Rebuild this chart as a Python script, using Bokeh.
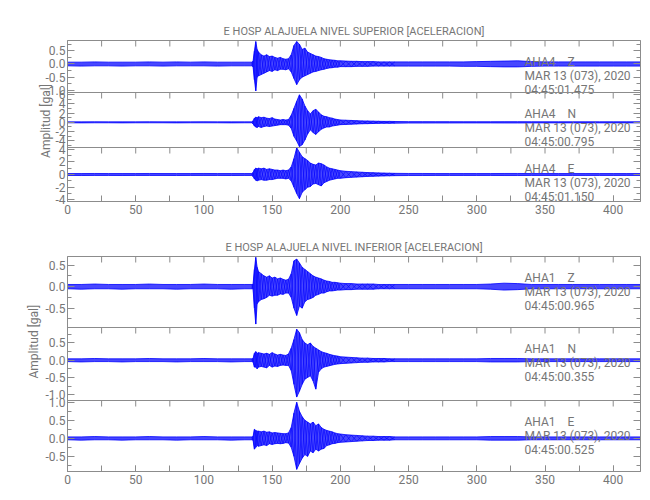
from bokeh.plotting import figure
from bokeh.layouts import column
from bokeh.models import LinearAxis, Range1d, Label, Span, SingleIntervalTicker, FixedTicker
from bokeh.embed import file_html
from bokeh.resources import INLINE

# ---------------- data ----------------
# time nodes in seconds
t = [0, 10, 20, 30, 40, 50, 60, 70, 80, 90, 100, 110, 120, 130, 135,
     136, 137, 138, 139, 140, 142, 144, 146, 148, 150, 152, 154, 156, 158, 160,
     162, 164, 166, 168, 170, 172, 174, 176, 178, 180, 182, 184, 186, 188, 190,
     192, 194, 196, 198, 200,
     204, 208, 212, 216, 220, 224, 228, 232, 236, 240,
     250, 260, 270, 280, 290, 300, 310, 320, 330, 340, 350, 360, 370, 380, 390, 400, 410, 420]

# upper level (AHA4) envelopes [gal]
aha4_z_hi = [0.07, 0.07, 0.08, 0.07, 0.07, 0.07, 0.08, 0.07, 0.08, 0.07, 0.08, 0.07, 0.07, 0.07, 0.07,
             0.10, 0.50, 0.85, 0.55, 0.45, 0.35, 0.30, 0.35, 0.28, 0.30, 0.25, 0.22, 0.25, 0.20, 0.18,
             0.20, 0.35, 0.70, 0.85, 0.75, 0.55, 0.60, 0.45, 0.40, 0.35, 0.30, 0.28, 0.25, 0.20, 0.18,
             0.16, 0.15, 0.14, 0.12, 0.12,
             0.11, 0.10, 0.10, 0.09, 0.09, 0.09, 0.08, 0.08, 0.08, 0.08,
             0.08, 0.08, 0.08, 0.08, 0.08, 0.09, 0.10, 0.11, 0.12, 0.09, 0.08, 0.08, 0.08, 0.08, 0.08, 0.08, 0.08, 0.08]
aha4_z_lo = [-0.07, -0.08, -0.07, -0.07, -0.08, -0.07, -0.07, -0.08, -0.07, -0.07, -0.07, -0.08, -0.07, -0.07, -0.07,
             -0.10, -0.60, -1.02, -0.50, -0.45, -0.40, -0.35, -0.30, -0.25, -0.28, -0.22, -0.25, -0.20, -0.20, -0.22,
             -0.18, -0.30, -0.55, -0.78, -0.60, -0.50, -0.45, -0.40, -0.35, -0.30, -0.28, -0.25, -0.22, -0.20, -0.17,
             -0.15, -0.14, -0.12, -0.12, -0.10,
             -0.10, -0.10, -0.09, -0.09, -0.09, -0.08, -0.08, -0.08, -0.08, -0.08,
             -0.08, -0.08, -0.08, -0.08, -0.09, -0.09, -0.10, -0.11, -0.11, -0.09, -0.08, -0.08, -0.08, -0.08, -0.08, -0.08, -0.08, -0.08]

aha4_n_hi = [0.10, 0.10, 0.12, 0.10, 0.10, 0.10, 0.12, 0.10, 0.10, 0.10, 0.12, 0.10, 0.10, 0.10, 0.10,
             0.30, 0.90, 1.10, 1.00, 1.20, 1.00, 1.10, 0.90, 0.80, 1.00, 0.70, 0.60, 0.50, 0.60, 0.50,
             0.60, 1.50, 3.00, 4.50, 5.90, 5.00, 3.50, 2.50, 1.80, 2.50, 2.80, 2.20, 1.60, 1.30, 1.20,
             1.00, 0.90, 0.70, 0.60, 0.50,
             0.45, 0.40, 0.35, 0.30, 0.28, 0.25, 0.22, 0.20, 0.20, 0.18,
             0.15, 0.15, 0.14, 0.14, 0.13, 0.13, 0.13, 0.14, 0.14, 0.13, 0.12, 0.12, 0.12, 0.12, 0.12, 0.12, 0.12, 0.12]
aha4_n_lo = [-0.10, -0.12, -0.10, -0.10, -0.12, -0.10, -0.10, -0.10, -0.12, -0.10, -0.10, -0.10, -0.12, -0.10, -0.10,
             -0.30, -0.80, -1.00, -1.10, -0.90, -1.10, -0.90, -0.80, -0.90, -0.80, -0.70, -0.60, -0.50, -0.50, -0.50,
             -0.60, -1.30, -3.00, -4.00, -5.20, -4.80, -3.80, -2.50, -1.60, -2.20, -2.60, -2.00, -1.50, -1.20, -1.00,
             -1.00, -0.80, -0.70, -0.60, -0.50,
             -0.45, -0.40, -0.35, -0.30, -0.28, -0.25, -0.22, -0.20, -0.20, -0.18,
             -0.15, -0.15, -0.14, -0.14, -0.13, -0.13, -0.13, -0.14, -0.14, -0.13, -0.12, -0.12, -0.12, -0.12, -0.12, -0.12, -0.12, -0.12]

aha4_e_hi = [0.15, 0.15, 0.16, 0.15, 0.15, 0.15, 0.16, 0.15, 0.15, 0.15, 0.16, 0.15, 0.15, 0.15, 0.15,
             0.30, 0.80, 1.00, 0.90, 1.00, 0.90, 1.00, 0.80, 0.90, 0.80, 0.70, 0.70, 0.60, 0.70, 0.60,
             0.70, 1.20, 2.50, 4.20, 3.50, 2.80, 2.50, 2.20, 1.80, 1.60, 1.50, 1.80, 1.70, 1.50, 1.20,
             1.00, 0.90, 0.80, 0.70, 0.60,
             0.50, 0.45, 0.40, 0.35, 0.30, 0.28, 0.25, 0.22, 0.20, 0.18,
             0.16, 0.16, 0.15, 0.15, 0.15, 0.15, 0.15, 0.16, 0.16, 0.15, 0.15, 0.15, 0.15, 0.15, 0.15, 0.15, 0.15, 0.15]
aha4_e_lo = [-0.15, -0.16, -0.15, -0.15, -0.16, -0.15, -0.15, -0.15, -0.16, -0.15, -0.15, -0.15, -0.16, -0.15, -0.15,
             -0.30, -0.70, -0.90, -1.00, -0.90, -0.80, -0.90, -0.90, -0.80, -0.80, -0.70, -0.60, -0.60, -0.60, -0.70,
             -0.60, -1.00, -2.00, -3.00, -3.80, -2.80, -2.40, -2.00, -1.90, -1.50, -1.40, -1.60, -1.80, -1.30, -1.10,
             -0.90, -0.80, -0.70, -0.60, -0.60,
             -0.50, -0.45, -0.40, -0.35, -0.30, -0.28, -0.25, -0.22, -0.20, -0.18,
             -0.16, -0.16, -0.15, -0.15, -0.15, -0.15, -0.15, -0.16, -0.16, -0.15, -0.15, -0.15, -0.15, -0.15, -0.15, -0.15, -0.15, -0.15]

# lower level (AHA1) envelopes [gal]
aha1_z_hi = [0.05, 0.05, 0.06, 0.05, 0.05, 0.05, 0.06, 0.05, 0.05, 0.05, 0.06, 0.05, 0.05, 0.05, 0.05,
             0.05, 0.40, 0.68, 0.45, 0.35, 0.30, 0.25, 0.22, 0.25, 0.20, 0.22, 0.18, 0.20, 0.17, 0.15,
             0.17, 0.30, 0.60, 0.64, 0.55, 0.45, 0.40, 0.35, 0.30, 0.25, 0.22, 0.20, 0.18, 0.15, 0.13,
             0.12, 0.10, 0.10, 0.09, 0.08,
             0.07, 0.07, 0.06, 0.06, 0.06, 0.06, 0.05, 0.05, 0.05, 0.05,
             0.05, 0.05, 0.05, 0.05, 0.05, 0.05, 0.06, 0.08, 0.07, 0.05, 0.05, 0.05, 0.05, 0.05, 0.05, 0.05, 0.05, 0.05]
aha1_z_lo = [-0.05, -0.06, -0.05, -0.05, -0.06, -0.05, -0.05, -0.05, -0.06, -0.05, -0.05, -0.05, -0.06, -0.05, -0.05,
             -0.05, -0.50, -0.87, -0.40, -0.35, -0.30, -0.28, -0.25, -0.20, -0.22, -0.20, -0.20, -0.17, -0.18, -0.15,
             -0.15, -0.25, -0.50, -0.67, -0.45, -0.50, -0.35, -0.30, -0.28, -0.25, -0.20, -0.18, -0.15, -0.15, -0.12,
             -0.10, -0.10, -0.09, -0.08, -0.08,
             -0.07, -0.07, -0.06, -0.06, -0.06, -0.06, -0.05, -0.05, -0.05, -0.05,
             -0.05, -0.05, -0.05, -0.05, -0.05, -0.05, -0.06, -0.08, -0.07, -0.05, -0.05, -0.05, -0.05, -0.05, -0.05, -0.05, -0.05, -0.05]

aha1_n_hi = [0.04, 0.04, 0.05, 0.04, 0.04, 0.04, 0.05, 0.04, 0.04, 0.04, 0.05, 0.04, 0.04, 0.04, 0.04,
             0.05, 0.20, 0.25, 0.20, 0.22, 0.20, 0.18, 0.20, 0.17, 0.22, 0.18, 0.15, 0.17, 0.15, 0.14,
             0.18, 0.35, 0.60, 0.90, 0.80, 0.60, 0.50, 0.45, 0.50, 0.40, 0.35, 0.30, 0.25, 0.22, 0.20,
             0.17, 0.15, 0.13, 0.12, 0.10,
             0.09, 0.08, 0.07, 0.06, 0.06, 0.05, 0.05, 0.05, 0.04, 0.04,
             0.04, 0.04, 0.04, 0.04, 0.04, 0.04, 0.05, 0.05, 0.05, 0.04, 0.04, 0.04, 0.04, 0.04, 0.04, 0.04, 0.04, 0.04]
aha1_n_lo = [-0.04, -0.05, -0.04, -0.04, -0.05, -0.04, -0.04, -0.04, -0.05, -0.04, -0.04, -0.04, -0.05, -0.04, -0.04,
             -0.05, -0.20, -0.20, -0.25, -0.20, -0.18, -0.20, -0.22, -0.15, -0.20, -0.17, -0.18, -0.15, -0.14, -0.15,
             -0.15, -0.30, -0.70, -1.07, -0.90, -0.70, -0.55, -0.50, -0.45, -0.60, -0.84, -0.35, -0.25, -0.20, -0.18,
             -0.16, -0.14, -0.12, -0.11, -0.10,
             -0.09, -0.08, -0.07, -0.06, -0.06, -0.05, -0.05, -0.05, -0.04, -0.04,
             -0.04, -0.04, -0.04, -0.04, -0.04, -0.04, -0.05, -0.05, -0.05, -0.04, -0.04, -0.04, -0.04, -0.04, -0.04, -0.04, -0.04, -0.04]

aha1_e_hi = [0.04, 0.04, 0.05, 0.04, 0.04, 0.04, 0.05, 0.04, 0.04, 0.04, 0.05, 0.04, 0.04, 0.04, 0.04,
             0.05, 0.25, 0.22, 0.20, 0.20, 0.18, 0.20, 0.17, 0.18, 0.15, 0.16, 0.15, 0.14, 0.13, 0.13,
             0.15, 0.30, 0.70, 1.00, 0.75, 0.60, 0.50, 0.45, 0.40, 0.45, 0.35, 0.40, 0.30, 0.25, 0.22,
             0.20, 0.18, 0.15, 0.13, 0.12,
             0.10, 0.09, 0.08, 0.07, 0.06, 0.06, 0.05, 0.05, 0.05, 0.04,
             0.04, 0.04, 0.04, 0.04, 0.04, 0.04, 0.05, 0.05, 0.05, 0.04, 0.04, 0.04, 0.04, 0.04, 0.04, 0.04, 0.04, 0.04]
aha1_e_lo = [-0.04, -0.05, -0.04, -0.04, -0.05, -0.04, -0.04, -0.04, -0.05, -0.04, -0.04, -0.04, -0.05, -0.04, -0.04,
             -0.05, -0.30, -0.25, -0.20, -0.22, -0.20, -0.18, -0.20, -0.15, -0.17, -0.15, -0.14, -0.15, -0.14, -0.12,
             -0.13, -0.25, -0.50, -0.86, -0.70, -0.55, -0.45, -0.50, -0.35, -0.40, -0.30, -0.35, -0.30, -0.28, -0.20,
             -0.18, -0.15, -0.14, -0.12, -0.11,
             -0.10, -0.09, -0.08, -0.07, -0.06, -0.06, -0.05, -0.05, -0.05, -0.04,
             -0.04, -0.04, -0.04, -0.04, -0.04, -0.04, -0.05, -0.05, -0.05, -0.04, -0.04, -0.04, -0.04, -0.04, -0.04, -0.04, -0.04, -0.04]

# axis ticks and their labels
x_ticks = [0, 25, 50, 75, 100, 125, 150, 175, 200, 225, 250, 275, 300, 325, 350, 375, 400]
a_z_major = [-1.0, -0.5, 0.0, 0.5]
a_z_labels = ["-1.0", "-0.5", "0.0", "0.5"]
a_z_minor = [-0.75, -0.25, 0.25, 0.75]
a_n_major = [-4, -2, 0, 2, 4, 6]
a_n_labels = ["-4", "-2", "0", "2", "4", "6"]
a_n_minor = [-5, -3, -1, 1, 3, 5]
a_e_major = [-4, -2, 0, 2, 4]
a_e_labels = ["-4", "-2", "0", "2", "4"]
a_e_minor = [-3, -1, 1, 3]
b_z_major = [-0.5, 0.0, 0.5]
b_z_labels = ["-0.5", "0.0", "0.5"]
b_z_minor = [-0.75, -0.25, 0.25]
b_n_major = [-1.0, -0.5, 0.0, 0.5]
b_n_labels = ["-1.0", "-0.5", "0.0", "0.5"]
b_n_minor = [-0.75, -0.25, 0.25, 0.75]
b_e_major = [-0.5, 0.0, 0.5, 1.0]
b_e_labels = ["-0.5", "0.0", "0.5", "1.0"]
b_e_minor = [-0.75, -0.25, 0.25, 0.75]

titles = ["E HOSP ALAJUELA NIVEL SUPERIOR [ACELERACION]",
          "E HOSP ALAJUELA NIVEL INFERIOR [ACELERACION]"]
stations = ["AHA4", "AHA4", "AHA4", "AHA1", "AHA1", "AHA1"]
components = ["Z", "N", "E", "Z", "N", "E"]
date_text = "MAR 13 (073), 2020"
start_times = ["04:45:01.475", "04:45:00.795", "04:45:01.150",
               "04:45:00.965", "04:45:00.355", "04:45:00.525"]
y_label = "Amplitud [gal]"

# ---------------- style ----------------
FONT = "Roboto"
FS = "12px"
TXT = "#767676"
AX = "#8c8c8c"
BLUE = "#0000ff"
FW = 573
XMAX = 420
NB = "\u00a0"
ACTIVE = slice(14, 60)   # densely sampled part of the records


def build_group(panels, heights, title, ylab_text, ylab_standoff, top_b, bottom_b):
    H = sum(heights)
    p = figure(frame_width=FW, frame_height=H, x_range=Range1d(0, XMAX),
               y_range=Range1d(0, H), output_backend="svg", toolbar_location=None,
               x_axis_location=None, y_axis_location=None,
               min_border_left=67, min_border_right=2, min_border_top=top_b,
               min_border_bottom=bottom_b, outline_line_color=AX,
               background_fill_color="white", border_fill_color="white")
    p.xgrid.visible = False
    p.ygrid.visible = False

    p.title.text = title
    p.title.align = "center"
    p.title.text_font = FONT
    p.title.text_font_size = "11px"
    p.title.text_font_style = "normal"
    p.title.text_color = TXT
    p.title.standoff = 6

    ranges = {}
    major_pos, minor_pos, overrides = [], [], {}
    y_top = H
    scales = []
    for k, (pn, h) in enumerate(zip(panels, heights)):
        y1 = y_top
        y0 = y_top - h
        y_top = y0
        lo, hi = pn["yr"]
        s = h / (hi - lo)
        scales.append(s)
        ranges["p%d" % k] = Range1d(lo - y0 / s, hi + (H - y1) / s)
        for v, lab in zip(pn["major"], pn["labels"]):
            pos = y0 + (v - lo) * s
            major_pos.append(pos)
            overrides[pos] = lab
        for v in pn["minor"]:
            minor_pos.append(y0 + (v - lo) * s)
    p.extra_y_ranges = ranges

    common = dict(axis_line_color=AX, major_tick_line_color=AX, minor_tick_line_color=AX,
                  major_tick_out=0, minor_tick_out=0, major_tick_in=7, minor_tick_in=4)
    left = LinearAxis(ticker=FixedTicker(ticks=major_pos, minor_ticks=minor_pos),
                      major_label_overrides=overrides, major_label_standoff=2,
                      major_label_text_font=FONT, major_label_text_font_size=FS,
                      major_label_text_color=TXT,
                      axis_label=ylab_text, axis_label_standoff=ylab_standoff,
                      axis_label_text_font=FONT, axis_label_text_font_size=FS,
                      axis_label_text_font_style="normal", axis_label_text_color=TXT,
                      **common)
    p.add_layout(left, "left")
    right = LinearAxis(ticker=FixedTicker(ticks=major_pos, minor_ticks=minor_pos),
                       major_label_text_color=None, major_label_text_font_size="1px",
                       major_label_standoff=0, **common)
    p.add_layout(right, "right")
    below = LinearAxis(ticker=SingleIntervalTicker(interval=50, num_minor_ticks=2),
                       major_label_standoff=3, major_label_text_font=FONT,
                       major_label_text_font_size=FS, major_label_text_color=TXT,
                       axis_line_color=AX, major_tick_line_color=AX, minor_tick_line_color=AX,
                       major_tick_out=0, minor_tick_out=0, major_tick_in=6, minor_tick_in=6)
    p.add_layout(below, "below")

    for k, pn in enumerate(panels):
        name = "p%d" % k
        s = scales[k]
        lo, hi = pn["yr"]
        # trace
        p.varea(x=t, y1=pn["lo"], y2=pn["hi"], y_range_name=name,
                fill_color=BLUE, fill_alpha=0.72)
        ta = t[ACTIVE]
        ha = pn["hi"][ACTIVE]
        la = pn["lo"][ACTIVE]
        zz1 = [ha[i] if i % 2 == 0 else la[i] for i in range(len(ta))]
        zz2 = [la[i] if i % 2 == 0 else ha[i] for i in range(len(ta))]
        p.line(ta, zz1, y_range_name=name, line_color=BLUE, line_width=0.6)
        p.line(ta, zz2, y_range_name=name, line_color=BLUE, line_width=0.6)
        p.line(t, pn["hi"], y_range_name=name, line_color=BLUE, line_width=0.8)
        p.line(t, pn["lo"], y_range_name=name, line_color=BLUE, line_width=0.8)

        # panel boundary + x ticks at the top of each panel
        if k > 0:
            p.add_layout(Span(location=hi, dimension="width", y_range_name=name,
                              line_color=AX, line_width=1))
        n = len(x_ticks)
        p.segment(x0=x_ticks, x1=x_ticks, y0=[hi] * n, y1=[hi - 6 / s] * n,
                  y_range_name=name, line_color=AX, line_width=1)
        # station annotation
        lines = [pn["station"] + NB * 4 + pn["comp"], date_text, pn["time"]]
        for i, txt in enumerate(lines):
            p.add_layout(Label(x=335, y=hi, y_range_name=name, y_offset=-21 - 14.3 * i,
                               text=txt, text_font=FONT, text_font_size=FS, text_color=TXT,
                               text_baseline="middle", text_align="left"))
    return p


upper_panels = [
    dict(hi=aha4_z_hi, lo=aha4_z_lo, yr=(-1.08, 0.89), major=a_z_major, labels=a_z_labels,
         minor=a_z_minor, station=stations[0], comp=components[0], time=start_times[0]),
    dict(hi=aha4_n_hi, lo=aha4_n_lo, yr=(-5.4, 6.4), major=a_n_major, labels=a_n_labels,
         minor=a_n_minor, station=stations[1], comp=components[1], time=start_times[1]),
    dict(hi=aha4_e_hi, lo=aha4_e_lo, yr=(-4.25, 4.25), major=a_e_major, labels=a_e_labels,
         minor=a_e_minor, station=stations[2], comp=components[2], time=start_times[2]),
]
lower_panels = [
    dict(hi=aha1_z_hi, lo=aha1_z_lo, yr=(-0.95, 0.70), major=b_z_major, labels=b_z_labels,
         minor=b_z_minor, station=stations[3], comp=components[3], time=start_times[3]),
    dict(hi=aha1_n_hi, lo=aha1_n_lo, yr=(-1.17, 0.95), major=b_n_major, labels=b_n_labels,
         minor=b_n_minor, station=stations[4], comp=components[4], time=start_times[4]),
    dict(hi=aha1_e_hi, lo=aha1_e_lo, yr=(-0.92, 1.05), major=b_e_major, labels=b_e_labels,
         minor=b_e_minor, station=stations[5], comp=components[5], time=start_times[5]),
]

up = build_group(upper_panels, [52, 55, 54], titles[0], y_label, -10, 40, 22)
lowf = build_group(lower_panels, [71, 73, 71], titles[1], NB * 15 + y_label, 2, 33, 20)

layout = column(up, lowf, spacing=0)

with open("out.html", "w") as f:
    f.write(file_html(layout, INLINE))
